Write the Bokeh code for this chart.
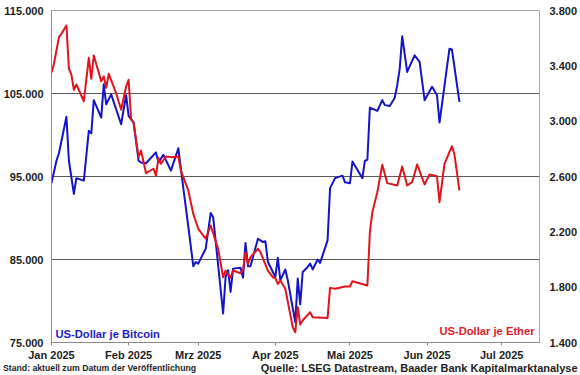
import pandas as pd
from bokeh.plotting import figure
from bokeh.layouts import column
from bokeh.models import Range1d, LinearAxis, FixedTicker, Label
from bokeh.embed import file_html
from bokeh.resources import INLINE

# ---------------- data ----------------
btc_dates = ["2025-01-01", "2025-01-03", "2025-01-04", "2025-01-07", "2025-01-08", "2025-01-10",
             "2025-01-11", "2025-01-14", "2025-01-16", "2025-01-17", "2025-01-18", "2025-01-21",
             "2025-01-22", "2025-01-23", "2025-01-25", "2025-01-29", "2025-01-31", "2025-02-01",
             "2025-02-03", "2025-02-05", "2025-02-06", "2025-02-08", "2025-02-12", "2025-02-13",
             "2025-02-15", "2025-02-18", "2025-02-21", "2025-02-23", "2025-02-25", "2025-02-27",
             "2025-02-28", "2025-03-01", "2025-03-02", "2025-03-04", "2025-03-06", "2025-03-07",
             "2025-03-11", "2025-03-12", "2025-03-13", "2025-03-14", "2025-03-15", "2025-03-18",
             "2025-03-19", "2025-03-20", "2025-03-21", "2025-03-22", "2025-03-25", "2025-03-26",
             "2025-03-27", "2025-03-28", "2025-03-29", "2025-04-01", "2025-04-02", "2025-04-03",
             "2025-04-05", "2025-04-06", "2025-04-09", "2025-04-10", "2025-04-11", "2025-04-12",
             "2025-04-14", "2025-04-15", "2025-04-16", "2025-04-18", "2025-04-19", "2025-04-22",
             "2025-04-23", "2025-04-25", "2025-04-28", "2025-04-29", "2025-05-01", "2025-05-02",
             "2025-05-06", "2025-05-07", "2025-05-08", "2025-05-09", "2025-05-12", "2025-05-14",
             "2025-05-15", "2025-05-17", "2025-05-19", "2025-05-20", "2025-05-21", "2025-05-22",
             "2025-05-24", "2025-05-27", "2025-05-29", "2025-05-31", "2025-06-03", "2025-06-05",
             "2025-06-06", "2025-06-10", "2025-06-11", "2025-06-14"]
btc_values = [94200, 96900, 97800, 102200, 96900, 92900,
              94800, 94500, 100500, 100200, 104200, 102100,
              106100, 103700, 104900, 101300, 104800, 102300,
              101500, 96900, 96700, 96600, 97900, 96700,
              97600, 95700, 98400, 93600, 89000, 84200,
              84700, 84500, 85100, 86300, 90600, 90100,
              78500, 82900, 83700, 81100, 83900, 84000,
              82800, 87000, 84200, 84200, 87500, 87300,
              87100, 87200, 84700, 82900, 85200, 82500,
              83800, 82500, 77450, 82700, 79600, 83500,
              84100, 84500, 83800, 85000, 84600, 87300,
              93600, 94800, 95100, 94300, 94200, 96800,
              94800, 96900, 97000, 103300, 102900, 104200,
              103600, 103500, 104500, 106000, 108000, 111900,
              107600, 109600, 108800, 104200, 105800, 104800,
              101500, 110400, 110300, 104000]

eth_dates = ["2025-01-01", "2025-01-02", "2025-01-04", "2025-01-05", "2025-01-07", "2025-01-08",
             "2025-01-09", "2025-01-10", "2025-01-11", "2025-01-14", "2025-01-16", "2025-01-17",
             "2025-01-18", "2025-01-21", "2025-01-22", "2025-01-23", "2025-01-24", "2025-01-27",
             "2025-01-29", "2025-01-31", "2025-02-01", "2025-02-02", "2025-02-03", "2025-02-05",
             "2025-02-06", "2025-02-08", "2025-02-11", "2025-02-12", "2025-02-13", "2025-02-14",
             "2025-02-16", "2025-02-18", "2025-02-21", "2025-02-22", "2025-02-24", "2025-02-25",
             "2025-02-27", "2025-03-01", "2025-03-04", "2025-03-06", "2025-03-09", "2025-03-11",
             "2025-03-12", "2025-03-14", "2025-03-15", "2025-03-18", "2025-03-19", "2025-03-20",
             "2025-03-21", "2025-03-22", "2025-03-25", "2025-03-26", "2025-03-29", "2025-03-31",
             "2025-04-01", "2025-04-02", "2025-04-03", "2025-04-05", "2025-04-08", "2025-04-09",
             "2025-04-10", "2025-04-11", "2025-04-12", "2025-04-15", "2025-04-16", "2025-04-22",
             "2025-04-23", "2025-04-25", "2025-04-29", "2025-05-01", "2025-05-02", "2025-05-08",
             "2025-05-09", "2025-05-10", "2025-05-12", "2025-05-14", "2025-05-16", "2025-05-20",
             "2025-05-22", "2025-05-24", "2025-05-26", "2025-05-28", "2025-05-31", "2025-06-02",
             "2025-06-05", "2025-06-06", "2025-06-08", "2025-06-11", "2025-06-12", "2025-06-14"]
eth_values = [3350, 3415, 3607, 3632, 3692, 3379,
              3337, 3227, 3265, 3144, 3458, 3306,
              3475, 3289, 3323, 3241, 3342, 3202,
              3082, 3251, 3299, 3017, 2992, 2740,
              2788, 2624, 2656, 2607, 2735, 2692,
              2745, 2740, 2745, 2643, 2547, 2499,
              2330, 2222, 2150, 2246, 2077, 1872,
              1920, 1868, 1920, 1901, 1925, 2053,
              1969, 2017, 2077, 2053, 1920, 1872,
              1865, 1824, 1848, 1788, 1510, 1474,
              1655, 1530, 1559, 1619, 1583, 1578,
              1795, 1788, 1805, 1805, 1843, 1812,
              2197, 2342, 2487, 2685, 2552, 2535,
              2672, 2535, 2559, 2687, 2542, 2614,
              2602, 2414, 2692, 2819, 2760, 2499]

btc_ticks = [75000, 85000, 95000, 105000, 115000]
btc_tick_labels = ["75.000", "85.000", "95.000", "105.000", "115.000"]
grid_ticks = [85000, 95000, 105000]
eth_ticks = [1400, 1800, 2200, 2600, 3000, 3400, 3800]
eth_tick_labels = ["1.400", "1.800", "2.200", "2.600", "3.000", "3.400", "3.800"]
month_dates = ["2025-01-01", "2025-02-01", "2025-03-01", "2025-04-01",
               "2025-05-01", "2025-06-01", "2025-07-01"]
month_labels = ["Jan 2025", "Feb 2025", "Mrz 2025", "Apr 2025",
                "Mai 2025", "Jun 2025", "Jul 2025"]

label_btc = "US-Dollar je Bitcoin"
label_eth = "US-Dollar je Ether"
footer_left = "Stand: aktuell zum Datum der Veröffentlichung"
footer_right = "Quelle: LSEG Datastream, Baader Bank Kapitalmarktanalyse"

# ---------------- layout ----------------
W, H, HF = 580, 363, 12                     # main figure + footer strip
FL, FR, FT, FB = 50, 541, 10, 342           # frame edges in canvas pixels
BLUE = "#1414C4"
RED = "#E0141E"
TXT = "#1e1e1e"
FONT = "Liberation Sans"

x_start = pd.Timestamp("2025-01-01")
x_end = x_start + pd.Timedelta(days=196.2)
ms = lambda t: pd.Timestamp(t).value / 1e6
x0, x1 = ms(x_start), ms(x_end)
y0, y1 = btc_ticks[0], btc_ticks[-1]


def xpx(px):
    return x0 + (px - FL) / (FR - FL) * (x1 - x0)


def ypx(py):
    return y0 + (FB - py) / (FB - FT) * (y1 - y0)


p = figure(width=W, height=H, x_axis_type="datetime",
           x_range=Range1d(x0, x1), y_range=Range1d(y0, y1),
           output_backend="svg", toolbar_location=None,
           min_border_left=FL, min_border_right=W - FR,
           min_border_top=FT, min_border_bottom=H - FB)
p.frame_align = False
p.extra_y_ranges = {"eth": Range1d(eth_ticks[0], eth_ticks[-1])}
p.background_fill_color = "white"
p.border_fill_color = "white"
p.outline_line_color = "#a8a8a8"
p.outline_line_width = 1

# left axis
ya = p.yaxis[0]
ya.ticker = FixedTicker(ticks=btc_ticks)
ya.major_label_overrides = {float(v): s for v, s in zip(btc_ticks, btc_tick_labels)}
ya.major_tick_in = 0
ya.major_tick_out = 0
ya.minor_tick_in = 0
ya.minor_tick_out = 0
ya.major_label_standoff = 8
ya.axis_line_color = "#8c8c8c"

# right axis
ra = LinearAxis(y_range_name="eth")
ra.ticker = FixedTicker(ticks=eth_ticks)
ra.major_label_overrides = {float(v): s for v, s in zip(eth_ticks, eth_tick_labels)}
ra.major_tick_in = 0
ra.major_tick_out = 0
ra.minor_tick_in = 0
ra.minor_tick_out = 0
ra.major_label_standoff = 10
ra.axis_line_color = None
p.add_layout(ra, "right")

# x axis
xa = p.xaxis[0]
month_ms = [ms(d) for d in month_dates]
xa.ticker = FixedTicker(ticks=month_ms)
xa.major_label_overrides = {float(v): s for v, s in zip(month_ms, month_labels)}
xa.major_tick_in = 0
xa.major_tick_out = 3
xa.minor_tick_in = 0
xa.minor_tick_out = 0
xa.major_tick_line_color = "#8c8c8c"
xa.axis_line_color = "#8c8c8c"
xa.major_label_standoff = 3

for ax in (ya, ra, xa):
    ax.major_label_text_font = FONT
    ax.major_label_text_font_style = "bold"
    ax.major_label_text_font_size = "11px"
    ax.major_label_text_color = TXT

p.xgrid.visible = False
p.ygrid.ticker = FixedTicker(ticks=grid_ticks)
p.ygrid.grid_line_color = "#5a5a5a"
p.ygrid.grid_line_width = 1

# series
p.line(pd.to_datetime(btc_dates), btc_values, line_color=BLUE, line_width=2, line_join="round")
p.line(pd.to_datetime(eth_dates), eth_values, line_color=RED, line_width=2, line_join="round",
       y_range_name="eth")

# series labels inside the frame
p.add_layout(Label(x=xpx(FL + 4), y=ypx(FB - 9), text=label_btc, text_color="#1c1cc8",
                   text_font=FONT, text_font_style="bold", text_font_size="11.2px",
                   text_align="left", text_baseline="middle"))
p.add_layout(Label(x=xpx(FR - 5), y=ypx(FB - 12), text=label_eth, text_color="#e0202a",
                   text_font=FONT, text_font_style="bold", text_font_size="11.2px",
                   text_align="right", text_baseline="middle"))

# footer strip
f = figure(width=W, height=HF, x_range=Range1d(0, W), y_range=Range1d(HF, 0),
           output_backend="svg", toolbar_location=None,
           x_axis_location=None, y_axis_location=None, min_border=0)
f.frame_align = False
f.grid.visible = False
f.outline_line_color = None
f.background_fill_color = "white"
f.border_fill_color = "white"
f.add_layout(Label(x=2.5, y=4.8, text=footer_left, text_color=TXT,
                   text_font=FONT, text_font_style="bold", text_font_size="8.7px",
                   text_align="left", text_baseline="middle"))
f.add_layout(Label(x=577, y=4.8, text=footer_right, text_color=TXT,
                   text_font=FONT, text_font_style="bold", text_font_size="11px",
                   text_align="right", text_baseline="middle"))

layout = column(p, f, spacing=0)
open("out.html", "w").write(file_html(layout, INLINE))
